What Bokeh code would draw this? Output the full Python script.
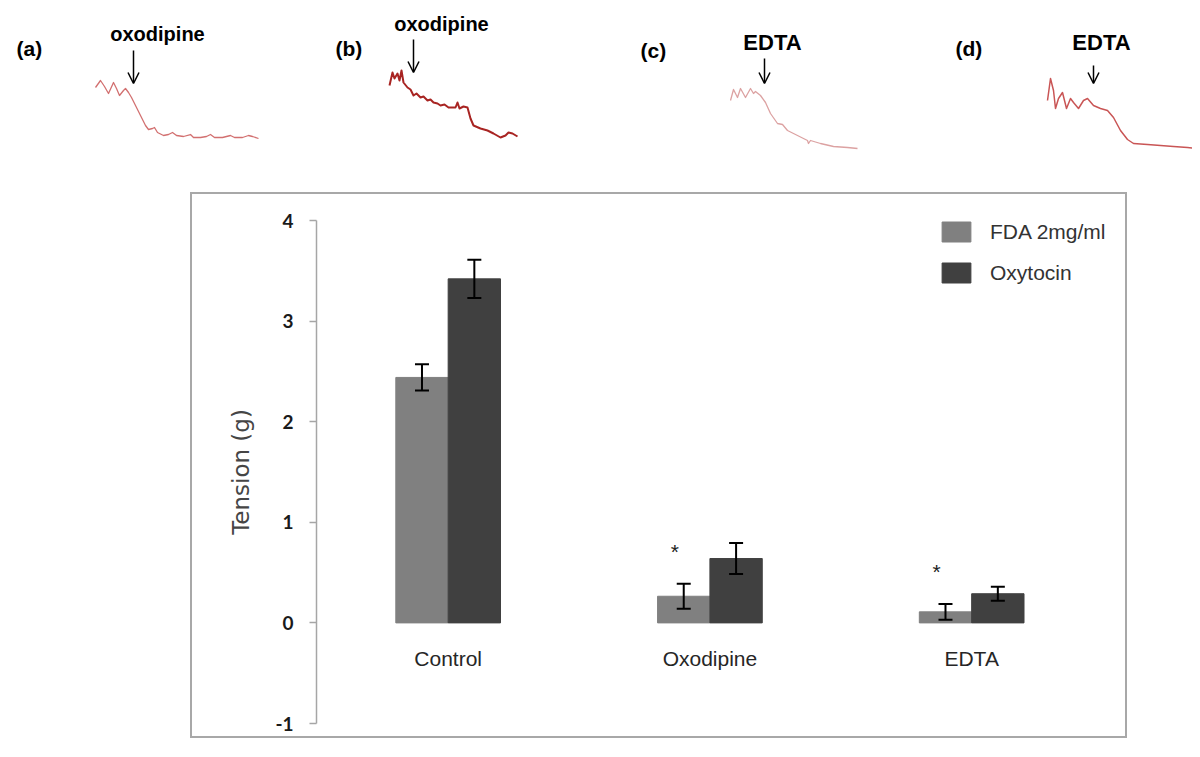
from bokeh.plotting import figure
from bokeh.models import (ColumnDataSource, Range1d, FixedTicker, Whisker, TeeHead,
                          Arrow, OpenHead, Legend, LegendItem, Spacer)
from bokeh.layouts import row, column
from bokeh.core.properties import value
from bokeh.embed import file_html
from bokeh.resources import INLINE

# ---------------- data: bar chart ----------------
categories = ["Control", "Oxodipine", "EDTA"]
series_names = ["FDA 2mg/ml", "Oxytocin"]
fda_mean = [2.44, 0.265, 0.11]
fda_sem = [0.13, 0.125, 0.078]
oxy_mean = [3.42, 0.64, 0.29]
oxy_sem = [0.19, 0.155, 0.07]
fda_signif = ["", "*", "*"]
y_ticks = [-1, 0, 1, 2, 3, 4]
y_tick_labels = ["-1", "0", "1", "2", "3", "4"]

# ---------------- data: tension traces (time in s, tension in arbitrary units) ----------------
panel_labels = ["(a)", "(b)", "(c)", "(d)"]
panel_drugs = ["oxodipine", "oxodipine", "EDTA", "EDTA"]
drug_time = [190, 120, 170, 230]

trace_a_t = [0, 25, 45, 65, 90, 105, 120, 140, 150, 165, 180, 200, 225, 250, 265, 285, 295, 310,
             340, 365, 385, 405, 440, 475, 490, 525, 555, 575, 595, 635, 675, 695, 735, 765, 785, 815]
trace_a_v = [6.3, 7.0, 6.4, 5.7, 6.8, 6.2, 5.5, 6.0, 6.2, 5.8, 5.3, 4.5, 3.5, 2.5, 2.1, 2.2, 2.3, 1.8,
             1.5, 1.6, 1.8, 1.5, 1.4, 1.6, 1.3, 1.3, 1.4, 1.6, 1.3, 1.3, 1.5, 1.3, 1.3, 1.5, 1.4, 1.2]

trace_b_t = [0, 15, 25, 40, 50, 60, 70, 90, 105, 120, 135, 155, 170, 190, 205, 220, 240, 255, 275, 295,
             330, 340, 350, 370, 390, 405, 420, 455, 490, 520, 555, 580, 595, 615, 640]
trace_b_v = [6.5, 7.8, 7.2, 7.7, 7.0, 8.0, 6.8, 6.3, 6.1, 5.5, 5.7, 5.3, 5.4, 5.0, 5.1, 4.8, 4.7, 4.5, 4.6, 4.3,
             4.3, 4.8, 4.2, 4.4, 4.3, 3.2, 2.5, 2.2, 2.0, 1.7, 1.3, 1.5, 1.8, 1.7, 1.4]

trace_c_t = [0, 15, 35, 50, 75, 100, 115, 125, 150, 175, 200, 235, 260, 285, 335, 385, 390, 400,
             450, 515, 585, 635]
trace_c_v = [5.0, 6.1, 5.3, 6.2, 5.3, 6.2, 5.7, 5.9, 5.5, 4.8, 3.7, 2.7, 2.6, 2.0, 1.5, 1.0, 0.7, 1.0,
             0.7, 0.4, 0.3, 0.2]

trace_d_t = [0, 15, 30, 40, 55, 75, 95, 115, 130, 155, 180, 200, 230, 265, 300, 330, 365, 400,
             430, 500, 565, 630, 700, 755]
trace_d_v = [5.0, 7.2, 6.0, 4.2, 5.2, 5.8, 4.2, 5.2, 4.8, 4.2, 5.0, 5.2, 4.5, 4.2, 4.0, 3.3, 2.0, 1.1,
             0.7, 0.6, 0.5, 0.4, 0.3, 0.2]

traces = [(trace_a_t, trace_a_v), (trace_b_t, trace_b_v), (trace_c_t, trace_c_v), (trace_d_t, trace_d_v)]

# ---------------- layout / style (not data) ----------------
PANEL_W, PANEL_H = 296, 162
panel_left = [8, 304, 600, 896]
trace_start = [95, 389, 730, 1047]
S_PER_PX = 5.0
PX_PER_UNIT = 10.0
BASE_PY = 150
trace_colors = ["#d27070", "#a82422", "#dca2a2", "#c95555"]
trace_widths = [1.3, 2.0, 1.3, 1.5]
label_pos = [(16, 48), (335, 48), (640, 50), (955, 48)]
drug_pos = [(157, 33), (441, 23), (772, 42), (1101, 42)]
drug_size = ["20px", "20px", "22px", "22px"]
arrow_y = [(50, 83), (39, 72), (58, 83), (65, 83)]

panels = []
for i in range(4):
    S = trace_start[i]
    L = panel_left[i]
    xr = Range1d((L - S) * S_PER_PX, (L + PANEL_W - S) * S_PER_PX)
    yr = Range1d((BASE_PY - (8 + PANEL_H)) / PX_PER_UNIT, (BASE_PY - 8) / PX_PER_UNIT)
    pp = figure(width=PANEL_W, height=PANEL_H, x_range=xr, y_range=yr,
                output_backend="svg", toolbar_location=None,
                x_axis_location=None, y_axis_location=None, min_border=0,
                outline_line_color=None, background_fill_color="white",
                border_fill_color="white")
    pp.grid.visible = False

    def tx(px, S=S):
        return (px - S) * S_PER_PX

    def ty(py):
        return (BASE_PY - py) / PX_PER_UNIT

    t, v = traces[i]
    pp.line(t, v, line_color=trace_colors[i], line_width=trace_widths[i], line_join="round")
    pp.text(x=[tx(label_pos[i][0])], y=[ty(label_pos[i][1])], text=[panel_labels[i]],
            text_font=value("Liberation Sans"), text_font_style="bold", text_font_size="21px",
            text_align="left", text_baseline="middle", text_color="black")
    pp.text(x=[tx(drug_pos[i][0])], y=[ty(drug_pos[i][1])], text=[panel_drugs[i]],
            text_font=value("Liberation Sans"), text_font_style="bold", text_font_size=drug_size[i],
            text_align="center", text_baseline="middle", text_color="black")
    pp.add_layout(Arrow(end=OpenHead(size=11, line_width=1.5, line_color="black"),
                        x_start=drug_time[i], y_start=ty(arrow_y[i][0]),
                        x_end=drug_time[i], y_end=ty(arrow_y[i][1]),
                        line_width=1.5, line_color="black"))
    panels.append(pp)

# ---------------- bar chart ----------------
n = len(categories)
xs = list(range(n))
BAR_W = 0.2
src_fda = ColumnDataSource(dict(x=[c - 0.1 for c in xs], top=fda_mean,
                                upper=[m + s for m, s in zip(fda_mean, fda_sem)],
                                lower=[m - s for m, s in zip(fda_mean, fda_sem)],
                                star=fda_signif,
                                star_x=[c - 0.134 for c in xs],
                                star_y=[m + s + 0.32 for m, s in zip(fda_mean, fda_sem)]))
src_oxy = ColumnDataSource(dict(x=[c + 0.1 for c in xs], top=oxy_mean,
                                upper=[m + s for m, s in zip(oxy_mean, oxy_sem)],
                                lower=[m - s for m, s in zip(oxy_mean, oxy_sem)]))

p = figure(width=937, height=546, x_range=Range1d(-0.503, 2.603), y_range=Range1d(-1, 4),
           output_backend="svg", toolbar_location=None, x_axis_location=None,
           min_border_left=124, min_border_right=0, min_border_top=26, min_border_bottom=17,
           outline_line_color=None, background_fill_color="white", border_fill_color="white")
p.styles = {"border": "2px solid #a8a8a8"}
p.grid.visible = False

r_fda = p.vbar(x="x", top="top", bottom=0, width=BAR_W, source=src_fda,
               fill_color="#808080", line_color="#808080")
r_oxy = p.vbar(x="x", top="top", bottom=0, width=BAR_W, source=src_oxy,
               fill_color="#404040", line_color="#404040")

for s in (src_fda, src_oxy):
    p.add_layout(Whisker(source=s, base="x", upper="upper", lower="lower",
                         line_color="black", line_width=2, level="overlay",
                         upper_head=TeeHead(size=14, line_width=2, line_color="black"),
                         lower_head=TeeHead(size=14, line_width=2, line_color="black")))

p.text(x="star_x", y="star_y", text="star", source=src_fda,
       text_font=value("Liberation Sans"), text_font_size="21px",
       text_align="center", text_baseline="middle", text_color="#222222")

p.text(x=xs, y=[-0.35] * n, text=categories,
       text_font=value("Liberation Sans"), text_font_size="21px",
       text_align="center", text_baseline="middle", text_color="#262626")

yax = p.yaxis[0]
yax.ticker = FixedTicker(ticks=y_ticks)
yax.major_label_overrides = {t: lab for t, lab in zip(y_ticks, y_tick_labels)}
yax.axis_line_color = "#a6a6a6"
yax.axis_line_width = 1.5
yax.major_tick_line_color = "#a6a6a6"
yax.major_tick_line_width = 1.5
yax.major_tick_out = 7
yax.major_tick_in = 0
yax.minor_tick_out = 0
yax.minor_tick_in = 0
yax.major_label_standoff = 16
yax.major_label_text_font = "Lato"
yax.major_label_text_font_style = "bold"
yax.major_label_text_font_size = "19px"
yax.major_label_text_color = "#1a1a1a"
yax.axis_label = "Tension (g)"
yax.axis_label_text_font = "DejaVu Sans"
yax.axis_label_text_font_style = "normal"
yax.axis_label_text_font_size = "23px"
yax.axis_label_text_color = "#454545"
yax.axis_label_standoff = 18

legend = Legend(items=[LegendItem(label=series_names[0], renderers=[r_fda]),
                       LegendItem(label=series_names[1], renderers=[r_oxy])],
                location=(622, 438), orientation="vertical",
                glyph_width=36, glyph_height=25, label_height=25, spacing=16,
                label_standoff=16, padding=0, margin=0,
                border_line_color=None, background_fill_alpha=0,
                label_text_font="Liberation Sans", label_text_font_size="21px",
                label_text_color="#333333")
p.add_layout(legend)

content = column(row(*panels), Spacer(height=22), row(Spacer(width=182), p))
page = column(Spacer(height=8), row(Spacer(width=8), content))

open("out.html", "w").write(file_html(page, INLINE))
